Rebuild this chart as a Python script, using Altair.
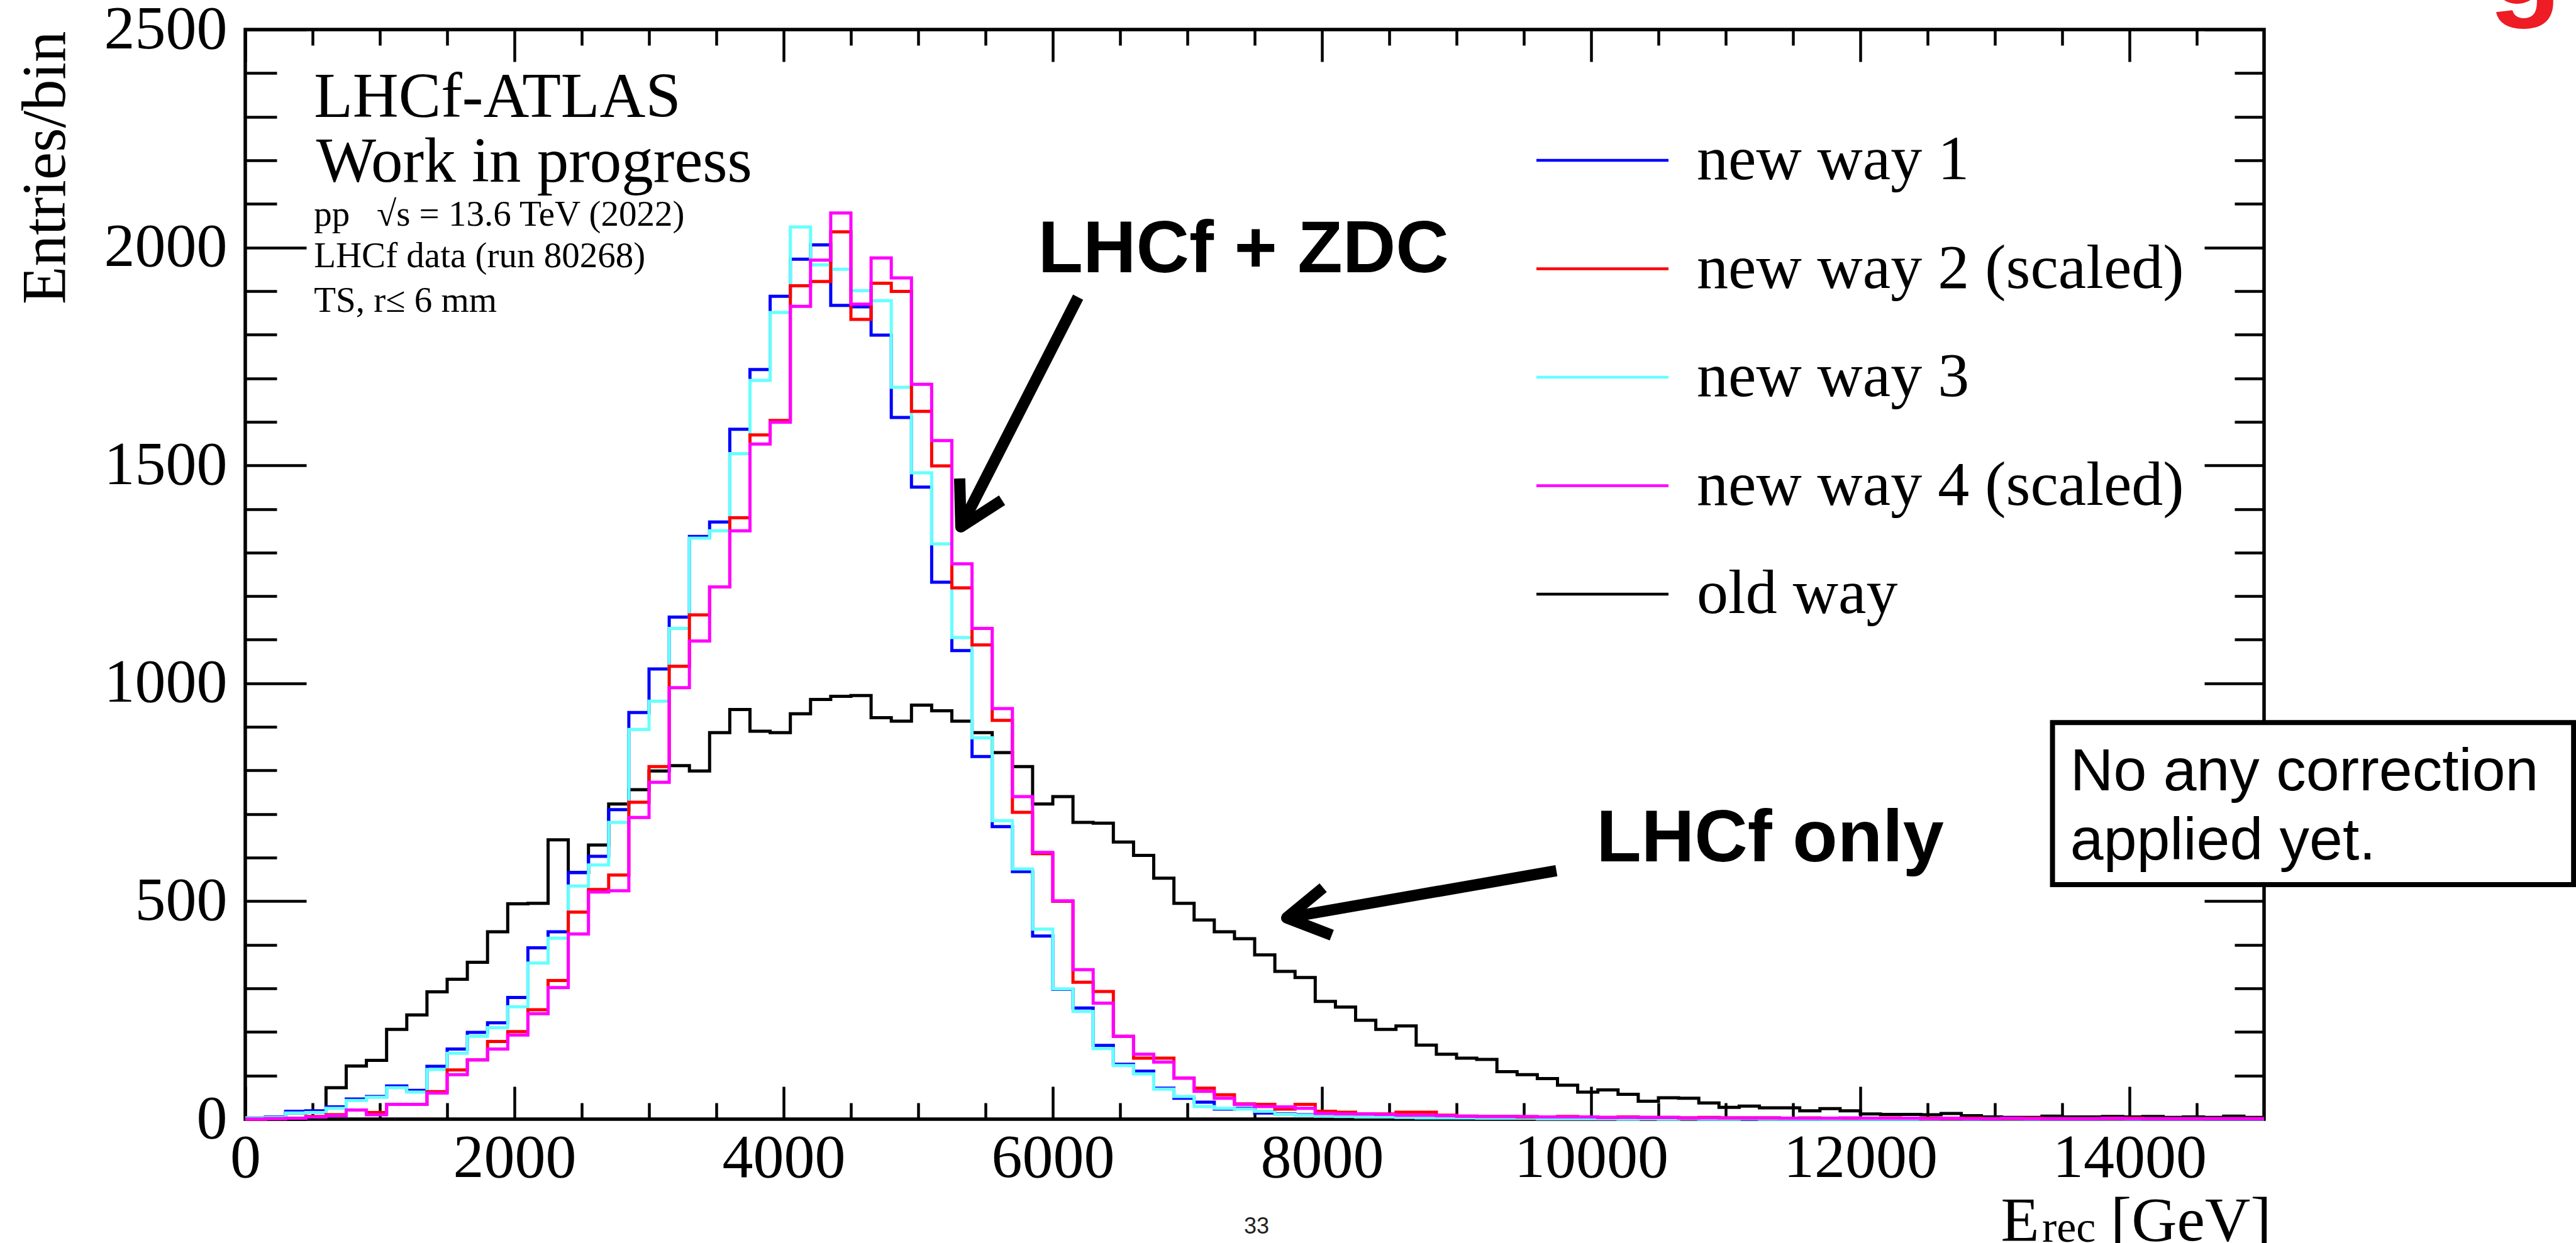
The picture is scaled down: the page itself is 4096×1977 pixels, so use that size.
import altair as alt
import pandas as pd

# ---------------- data (150 GeV bins, 0 - 15000 GeV) ----------------
BIN_WIDTH = 150
E_MAX = 15000

old_way = [2, 3, 14, 16, 72, 122, 135, 206, 239, 292,
           321, 360, 430, 494, 495, 641, 566, 629, 723, 756,
           799, 811, 799, 887, 940, 890, 887, 930, 963, 970,
           972, 921, 913, 950, 937, 913, 887, 841, 809, 723,
           740, 681, 679, 636, 605, 553, 495, 457, 430, 414,
           377, 339, 325, 270, 257, 227, 206, 214, 170, 149,
           140, 137, 109, 102, 93, 78, 62, 67, 57, 41,
           49, 48, 37, 27, 30, 26, 26, 19, 24, 19,
           12, 11, 11, 10, 13, 8, 5, 4, 4, 7,
           5, 5, 6, 5, 6, 4, 5, 4, 7, 4]

new_way_1 = [3, 5, 18, 19, 28, 46, 52, 76, 66, 121,
             161, 199, 221, 279, 393, 430, 566, 603, 710, 933,
             1033, 1152, 1337, 1370, 1583, 1720, 1888, 1973, 2006, 1867,
             1864, 1799, 1610, 1450, 1232, 1075, 832, 671, 568, 420,
             298, 255, 169, 126, 110, 71, 48, 39, 23, 25,
             14, 12, 10, 8, 7, 6, 5, 5, 4, 4,
             3, 3, 3, 2, 2, 2, 2, 1, 1, 1,
             1, 1, 0, 1, 0, 1, 0, 0, 1, 0,
             0, 0, 0, 1, 0, 0, 0, 0, 0, 0,
             0, 0, 0, 0, 0, 0, 0, 0, 0, 0]

new_way_2 = [0, 1, 2, 6, 10, 21, 15, 34, 34, 63,
             113, 136, 178, 201, 251, 318, 475, 527, 560, 727,
             809, 1039, 1157, 1221, 1380, 1570, 1603, 1912, 1922, 2036,
             1835, 1918, 1899, 1624, 1499, 1219, 1088, 915, 704, 609,
             500, 314, 293, 190, 140, 140, 94, 71, 56, 35,
             34, 23, 34, 18, 16, 12, 12, 16, 16, 9,
             7, 6, 6, 5, 5, 6, 5, 4, 5, 4,
             4, 3, 4, 3, 3, 3, 2, 3, 2, 2,
             2, 3, 2, 2, 1, 2, 1, 1, 2, 1,
             1, 1, 1, 2, 1, 1, 1, 1, 1, 1]

new_way_3 = [3, 4, 14, 15, 25, 43, 50, 72, 62, 114,
             151, 190, 210, 258, 358, 415, 535, 583, 681, 894,
             959, 1126, 1333, 1350, 1527, 1695, 1851, 2047, 1960, 1950,
             1901, 1878, 1679, 1483, 1320, 1105, 875, 685, 574, 436,
             299, 247, 162, 123, 104, 69, 52, 29, 25, 23,
             18, 11, 9, 7, 6, 5, 5, 4, 3, 3,
             3, 2, 2, 2, 1, 1, 1, 1, 0, 1,
             0, 1, 0, 0, 1, 0, 0, 0, 0, 0,
             0, 0, 0, 0, 0, 0, 0, 0, 0, 0,
             0, 0, 0, 0, 0, 0, 0, 0, 0, 0]

new_way_4 = [0, 1, 2, 5, 8, 21, 10, 34, 34, 60,
             102, 136, 161, 193, 242, 302, 425, 521, 524, 692,
             773, 990, 1097, 1221, 1350, 1549, 1599, 1865, 1971, 2079,
             1870, 1976, 1930, 1686, 1557, 1274, 1126, 942, 740, 612,
             501, 343, 266, 190, 149, 131, 94, 64, 48, 34,
             29, 28, 25, 13, 12, 12, 11, 9, 9, 8,
             7, 6, 6, 6, 5, 5, 5, 4, 4, 4,
             4, 3, 3, 3, 3, 3, 2, 2, 2, 3,
             2, 2, 2, 1, 2, 1, 1, 2, 1, 1,
             1, 1, 2, 1, 1, 1, 1, 1, 1, 1]

series_names = ["new way 1", "new way 2 (scaled)", "new way 3",
                "new way 4 (scaled)", "old way"]
series_colors = ["#0000ff", "#ff0000", "#66ffff", "#ff00ff", "#000000"]
series_values = [new_way_1, new_way_2, new_way_3, new_way_4, old_way]
draw_order = ["old way", "new way 1", "new way 3", "new way 2 (scaled)",
              "new way 4 (scaled)"]

x_major = list(range(0, 15000, 2000))
x_minor = [v for v in range(500, 15000, 500) if v % 2000]
y_major = list(range(0, 2501, 500))
y_minor = [v for v in range(100, 2500, 100) if v % 500]

# annotations (data coordinates)
NB = "\u00a0"
big_text = ["LHCf-ATLAS", "Work in progress"]
big_text_E = [510, 527]
big_text_n = [2299, 2151]
small_text = ["pp" + NB * 3 + "\u221as = 13.6 TeV (2022)", "LHCf data (run 80268)", "TS, r\u2264 6 mm"]
small_text_E = [510, 510, 510]
small_text_n = [2050, 1954, 1853]
bold_text = ["LHCf + ZDC", "LHCf only"]
bold_text_E = [5890, 10039]
bold_text_n = [1943, 592]
box_text = ["No any correction", "applied yet."]
box_text_E = [13560, 13560]
box_text_n = [755, 596]
box_E = [13428, 17300]
box_n = [538, 910]
arrow_shaft = [(6188, 1886, 5317, 1359), (9742, 570, 7738, 462)]
arrow_heads = [[(5308, 1470), (5317, 1359), (5623, 1420)],
               [(8009, 531), (7738, 462), (8073, 422)]]
xtitle_big = ["E", "[GeV]"]
xtitle_big_E = [13044, 13860]
xtitle_big_n = [-278, -278]
xtitle_sub = ["rec"]
xtitle_sub_E = [13350]
xtitle_sub_n = [-282]
page_text = ["33"]
page_E = [7514]
page_n = [-263]
corner_text = ["g"]
corner_E = [16668]
corner_n = [2559]

# ---------------- tables ----------------
rows = []
for name, vals in zip(series_names, series_values):
    for i, v in enumerate(vals):
        rows.append({"E": i * BIN_WIDTH, "count": v, "series": name})
    rows.append({"E": E_MAX, "count": vals[-1], "series": name})
hist_df = pd.DataFrame(rows)

W, H = 3210, 1733
SERIF = "Liberation Serif"
SANS = "Liberation Sans"

x_scale = alt.Scale(domain=[0, E_MAX], nice=False, zero=False)
y_scale = alt.Scale(domain=[0, 2500], nice=False, zero=False)
color_scale = alt.Scale(domain=series_names, range=series_colors)

legend = alt.Legend(
    title=None, orient="none", legendX=2103, legendY=153, padding=0,
    symbolType="M-2,0H2", symbolSize=105 ** 2, symbolStrokeWidth=4.5,
    labelFont=SERIF, labelFontSize=100, labelColor="black", labelLimit=0,
    labelOffset=95, rowPadding=67.5,
)

x_label_axis = alt.Axis(
    orient="bottom", values=x_major, format="d", labelFont=SERIF,
    labelFontSize=98, labelColor="black", labelPadding=14, labelFlush=False,
    labelOverlap=False, labelBound=False, labelLimit=0, ticks=False, tickSize=0,
    domain=False, grid=False, title=None,
)
y_label_axis = alt.Axis(
    orient="left", values=y_major, format="d", labelFont=SERIF,
    labelFontSize=98, labelColor="black", labelPadding=29, labelFlush=False,
    labelOverlap=False, labelBound=False, labelLimit=0, ticks=False, tickSize=0,
    domain=False, grid=False, title="Entries/bin", titleFont=SERIF,
    titleFontSize=99, titleFontWeight="normal", titleColor="black",
    titleAngle=270, titleAlign="right", titleBaseline="alphabetic",
    titleX=-288, titleY=2, titleLimit=0,
)


def hist_layer(name, with_axes):
    return alt.Chart(hist_df).transform_filter(
        alt.FieldEqualPredicate(field="series", equal=name)
    ).mark_line(interpolate="step-after", strokeWidth=5).encode(
        x=alt.X("E:Q", scale=x_scale, axis=x_label_axis if with_axes else None),
        y=alt.Y("count:Q", scale=y_scale, axis=y_label_axis if with_axes else None),
        color=alt.Color("series:N", scale=color_scale, legend=legend),
    )


def tick_axis(orient, values, size, offset):
    return alt.Axis(orient=orient, values=values, offset=offset, tickSize=size,
                    tickWidth=4.5, tickColor="black", ticks=True, labels=False,
                    domain=False, grid=False, title=None)


dummy = pd.DataFrame({"E": [0], "count": [0]})


def tick_layer(xo, xv, xs, yo, yv, ys):
    return alt.Chart(dummy).mark_point(opacity=0).encode(
        x=alt.X("E:Q", scale=x_scale, axis=tick_axis(xo, xv, xs, -H)),
        y=alt.Y("count:Q", scale=y_scale, axis=tick_axis(yo, yv, ys, -W)),
    )


def xy(df):
    return dict(x=alt.X("E:Q", scale=x_scale, axis=None),
                y=alt.Y("count:Q", scale=y_scale, axis=None))


def text_layer(texts, Es, ns, font, size, weight="normal", color="black", align="left"):
    df = pd.DataFrame({"text": texts, "E": Es, "count": ns})
    return alt.Chart(df).mark_text(
        align=align, baseline="alphabetic", font=font, fontSize=size,
        fontWeight=weight, color=color,
    ).encode(text="text:N", **xy(df))


layers = [hist_layer(n, i == 0) for i, n in enumerate(draw_order)]

layers += [
    tick_layer("top", x_major, 52, "right", y_major, 97),
    tick_layer("top", x_minor, 26, "right", y_minor, 50),
    tick_layer("bottom", x_major, 51, "left", y_major, 95),
    tick_layer("bottom", x_minor, 25, "left", y_minor, 47),
]

# arrows
shaft_df = pd.DataFrame(arrow_shaft, columns=["E", "count", "E2", "count2"])
layers.append(alt.Chart(shaft_df).mark_rule(strokeWidth=18, color="black").encode(
    x=alt.X("E:Q", scale=x_scale, axis=None),
    y=alt.Y("count:Q", scale=y_scale, axis=None),
    x2="E2:Q", y2="count2:Q"))
head_rows = []
for a, pts in enumerate(arrow_heads):
    for k, (e, n) in enumerate(pts):
        head_rows.append({"arrow": a, "k": k, "E": e, "count": n})
head_df = pd.DataFrame(head_rows)
layers.append(alt.Chart(head_df).mark_line(strokeWidth=18, color="black",
                                           strokeJoin="round").encode(
    order="k:Q", detail="arrow:N", **xy(head_df)))

# box
box_df = pd.DataFrame({"E": [box_E[0]], "E2": [box_E[1]],
                       "count": [box_n[0]], "count2": [box_n[1]]})
layers.append(alt.Chart(box_df).mark_rect(fill="white", stroke="black",
                                          strokeWidth=8).encode(
    x=alt.X("E:Q", scale=x_scale, axis=None),
    y=alt.Y("count:Q", scale=y_scale, axis=None),
    x2="E2:Q", y2="count2:Q"))

layers += [
    text_layer(big_text, big_text_E, big_text_n, SERIF, 101),
    text_layer(small_text, small_text_E, small_text_n, SERIF, 57),
    text_layer(bold_text, bold_text_E, bold_text_n, SANS, 117, weight="bold"),
    text_layer(box_text, box_text_E, box_text_n, SANS, 95),
    text_layer(xtitle_big, xtitle_big_E, xtitle_big_n, SERIF, 100),
    text_layer(xtitle_sub, xtitle_sub_E, xtitle_sub_n, SERIF, 70),
    text_layer(page_text, page_E, page_n, SANS, 36, color="#222222", align="center"),
    text_layer(corner_text, corner_E, corner_n, SANS, 190, weight="bold", color="#ee1c25"),
]

chart = alt.layer(*layers).resolve_axis(
    x="independent", y="independent"
).properties(
    width=W, height=H,
    autosize=alt.AutoSizeParams(type="none"),
    padding={"left": 390, "top": 47, "right": 4096 - 390 - W, "bottom": 1977 - 47 - H},
    background="white",
).configure_view(stroke="black", strokeWidth=5.5)

chart.save("out.html", embed_options={"renderer": "svg", "actions": False})
